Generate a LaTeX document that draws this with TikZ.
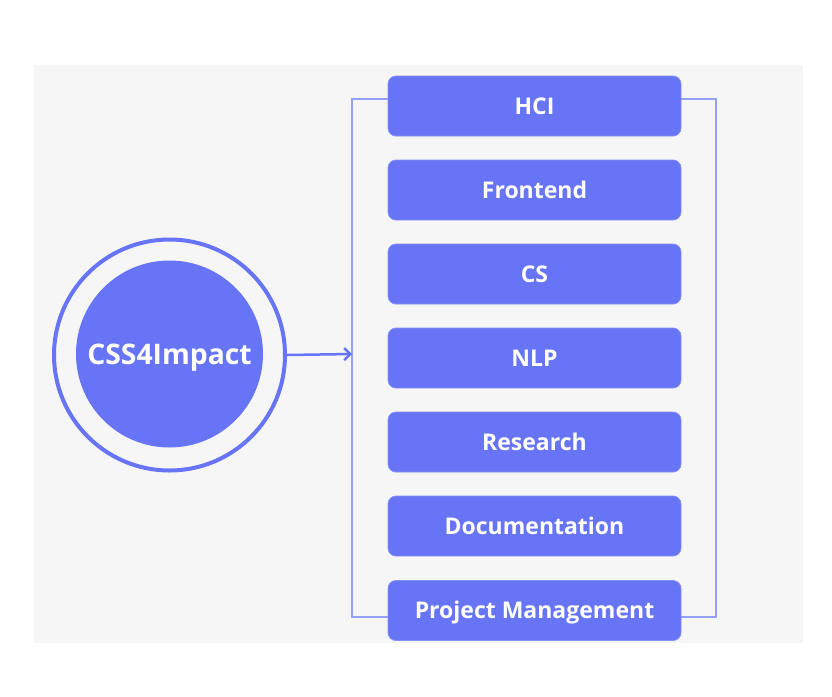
\documentclass[tikz,border=0pt]{standalone}
\usepackage{fontspec}
\setmainfont{Open Sans}
\usetikzlibrary{arrows.meta}
\definecolor{boxblue}{RGB}{102,116,245}
\definecolor{linkblue}{RGB}{150,160,250}
\definecolor{bggray}{RGB}{246,246,246}
\begin{document}
\begin{tikzpicture}[x=1pt,y=-1pt,
  itembox/.style={draw=boxblue!80!white,line width=0.8pt,fill=boxblue,rounded corners=8pt,minimum width=293pt,minimum height=60pt,inner sep=0pt,text=white,text height=16.4pt,text depth=0pt,font=\bfseries\fontsize{23}{27}\selectfont},
  bracket/.style={draw=linkblue,line width=1.2pt},
  arrowline/.style={draw=boxblue,line width=2.5pt,-{Straight Barb[length=6pt,width=12pt,line width=2.5pt]}}]
\useasboundingbox (0,0) rectangle (832,696);
\fill[bggray] (34,65) rectangle (803,643);
% bracket
\coordinate (bl) at (352,354);
\draw[bracket] (388,99) -- (352,99) -- (352,617) -- (388,617);
\draw[bracket] (681,99) -- (716,99) -- (716,617) -- (681,617);
% boxes
\node[itembox] (hci) at (534.5,106) {HCI};
\node[itembox] (fe) at (534.5,190) {Frontend};
\node[itembox] (cs) at (534.5,274) {CS};
\node[itembox] (nlp) at (534.5,358) {NLP};
\node[itembox] (res) at (534.5,442) {Research};
\node[itembox] (doc) at (534.5,526) {Documentation};
\node[itembox] (pm) at (534.5,610.5) {Project Management};
% circle
\node[circle,draw=boxblue,line width=4pt,fill=bggray,minimum size=231pt,inner sep=0pt] (ring) at (169.5,355) {};
\node[circle,fill=boxblue,minimum size=187pt,inner sep=0pt,text=white,text height=20.2pt,text depth=0pt,font=\bfseries\fontsize{28.3}{33}\selectfont] (core) at (169.5,354) {CSS4Impact};
\draw[arrowline] (ring.east) -- (bl);
\end{tikzpicture}
\end{document}
